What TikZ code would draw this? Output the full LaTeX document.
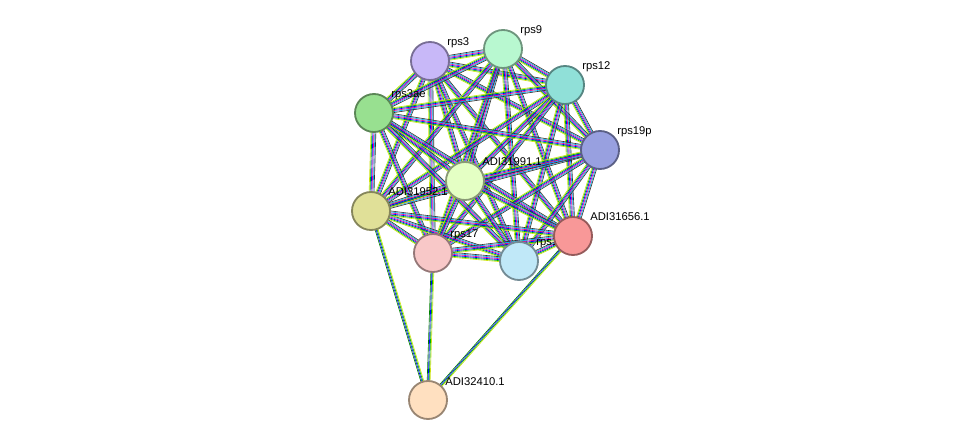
\documentclass[tikz,border=0pt]{standalone}
\usepackage{fontspec}
\setmainfont{Liberation Sans}
\usetikzlibrary{calc,backgrounds}
\begin{document}
\begin{tikzpicture}[x=0.025cm,y=-0.025cm]
        \tikzset{prot/.style={circle, minimum size=0.95cm, inner sep=0pt, line width=1.3pt},
                 lbl/.style={anchor=base west, inner sep=0pt, font=\fontsize{8}{9}\selectfont, text=black}}
        \newcommand{\prot}[5]{%
          \node[prot, fill=#4, draw=#4!60!black] (#1) at (#2,#3) {};
          \node[lbl] (#1l) at (#2+17,#3-15) {#5};}
        \useasboundingbox (0,0) rectangle (975,446);

        \definecolor{c3}{HTML}{C8B8F8}   \definecolor{c9}{HTML}{B8F8D0}
        \definecolor{c12}{HTML}{90E0D8}  \definecolor{c3ae}{HTML}{98E090}
        \definecolor{c19}{HTML}{98A0E0}  \definecolor{c91}{HTML}{E4FFC4}
        \definecolor{c52}{HTML}{E0E098}  \definecolor{c17}{HTML}{F8C8C8}
        \definecolor{c14}{HTML}{C0E8F8}  \definecolor{c56}{HTML}{F89898}
        \definecolor{c10}{HTML}{FFE0C0}

        \prot{rps3}{430}{61}{c3}{rps3}
        \prot{rps9}{503}{49}{c9}{rps9}
        \prot{rps12}{565}{85}{c12}{rps12}
        \prot{rps3ae}{374}{113}{c3ae}{rps3ae}
        \prot{rps19p}{600}{150}{c19}{rps19p}
        \prot{adi52}{371}{211}{c52}{ADI31952.1}
        \prot{adi91}{465}{181}{c91}{ADI31991.1}
        \prot{rps17}{433}{253}{c17}{rps17}
        \prot{rps14}{519}{261}{c14}{rps14}
        \prot{adi56}{573}{236}{c56}{ADI31656.1}
        \prot{adi10}{428}{400}{c10}{ADI32410.1}

        % evidence lines
        \begin{pgfonlayer}{background}
        \foreach \a/\b in {rps3/rps9,rps3/rps12,rps3/rps3ae,rps3/rps19p,rps3/adi52,rps3/adi91,rps3/rps17,rps3/rps14,rps3/adi56,
                           rps9/rps12,rps9/rps3ae,rps9/rps19p,rps9/adi52,rps9/adi91,rps9/rps17,rps9/rps14,rps9/adi56,
                           rps12/rps3ae,rps12/rps19p,rps12/adi52,rps12/adi91,rps12/rps17,rps12/rps14,rps12/adi56,
                           rps3ae/rps19p,rps3ae/adi52,rps3ae/adi91,rps3ae/rps17,rps3ae/rps14,rps3ae/adi56,
                           rps19p/adi52,rps19p/adi91,rps19p/rps17,rps19p/rps14,rps19p/adi56,
                           adi52/adi91,adi52/rps17,adi52/rps14,adi52/adi56,
                           adi91/rps17,adi91/rps14,adi91/adi56,
                           rps17/rps14,rps17/adi56,rps14/adi56}
          \foreach \o/\c in {-2.5/yellow!80!green,-1.5/green!70!black,-0.5/blue,0.5/magenta,1.5/cyan,2.5/black!80}
            \draw[\c, line width=0.45pt] ($(\a)!\o*0.7pt!90:(\b)$) -- ($(\b)!\o*0.7pt!-90:(\a)$);
        \foreach \a/\b in {adi10/adi52,adi10/rps17,adi10/adi56}
          \foreach \o/\c in {-1.5/yellow!80!green,-0.5/green!70!black,0.5/blue,1.5/green!50!black}
            \draw[\c, line width=0.45pt] ($(\a)!\o*0.7pt!90:(\b)$) -- ($(\b)!\o*0.7pt!-90:(\a)$);
        \end{pgfonlayer}
\end{tikzpicture}
\end{document}
